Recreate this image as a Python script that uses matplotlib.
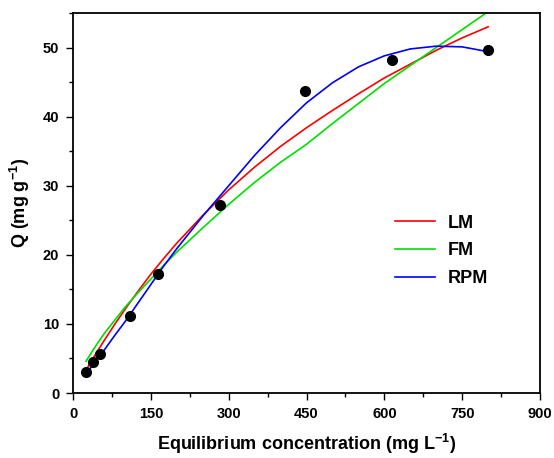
import numpy as np
import matplotlib
matplotlib.use('Agg')
import matplotlib.pyplot as plt

plt.rcParams['font.family'] = 'Liberation Sans'
plt.rcParams['font.weight'] = 'bold'
plt.rcParams['mathtext.fontset'] = 'custom'
plt.rcParams['mathtext.rm'] = 'Liberation Sans:bold'
plt.rcParams['mathtext.it'] = 'Liberation Sans:bold'

#Experimental points
ce_exp = [25, 38, 52, 110, 163, 283, 448, 615, 800]
q_exp = [3.1, 4.5, 5.7, 11.2, 17.2, 27.2, 43.7, 48.2, 49.6]

#Model curves
ce_fit = [25, 40, 60, 80, 100, 125, 150, 175, 200, 250, 300, 350, 400,
          450, 500, 550, 600, 650, 700, 750, 800]
q_lm = [3.3, 5.2, 7.6, 9.9, 12.1, 14.7, 17.2, 19.5, 21.7, 25.7, 29.4, 32.7,
        35.7, 38.4, 40.9, 43.3, 45.6, 47.6, 49.6, 51.4, 53.0]
q_fm = [4.6, 6.4, 8.6, 10.5, 12.4, 14.5, 16.5, 18.5, 20.4, 23.9, 27.3, 30.5,
        33.4, 36.0, 39.0, 41.9, 44.8, 47.4, 50.0, 52.6, 55.2]
q_rpm = [2.8, 4.2, 6.2, 8.3, 10.3, 13.0, 15.7, 18.4, 20.9, 25.6, 30.0, 34.4,
         38.4, 42.0, 44.9, 47.2, 48.8, 49.8, 50.2, 50.1, 49.4]

fig = plt.figure(figsize=(5.54, 4.58), dpi=100)
ax = fig.add_axes([0.1318, 0.1419, 0.8429, 0.8297])

ax.plot(ce_fit, q_lm, c='red', linewidth=1.2, label='LM')
ax.plot(ce_fit, q_fm, c='#00e000', linewidth=1.2, label='FM')
ax.plot(ce_fit, q_rpm, c='blue', linewidth=1.2, label='RPM')
ax.plot(ce_exp, q_exp, 'o', c='black', markersize=7, zorder=5)

ax.set_xlim(0, 900)
ax.set_ylim(0, 55)
ax.set_xticks(np.arange(0, 901, 150))
ax.set_xticks(np.arange(0, 901, 75), minor=True)
ax.set_yticks(np.arange(0, 51, 10))
ax.set_yticks(np.arange(0, 56, 5), minor=True)
ax.tick_params(which='major', direction='out', length=5, width=1, labelsize=10.5,
               top=False, right=False, pad=5)
ax.tick_params(which='minor', direction='out', length=3, width=1,
               top=False, right=False)
for lab in ax.get_xticklabels() + ax.get_yticklabels():
    lab.set_fontweight('bold')
for sp in ax.spines.values():
    sp.set_linewidth(1.3)

ax.set_xlabel(r'Equilibrium concentration (mg L$^{-1}$)', fontsize=13,
              fontweight='bold', labelpad=8)
ax.set_ylabel(r'Q (mg g$^{-1}$)', fontsize=13, fontweight='bold', labelpad=8)

ax.legend(loc='center left', bbox_to_anchor=(0.69, 0.374), frameon=False,
          handlelength=2.2, handletextpad=0.7, borderpad=0, borderaxespad=0,
          prop={'weight': 'bold', 'size': 13}, labelspacing=0.6)

plt.savefig('out.png', dpi=100)
